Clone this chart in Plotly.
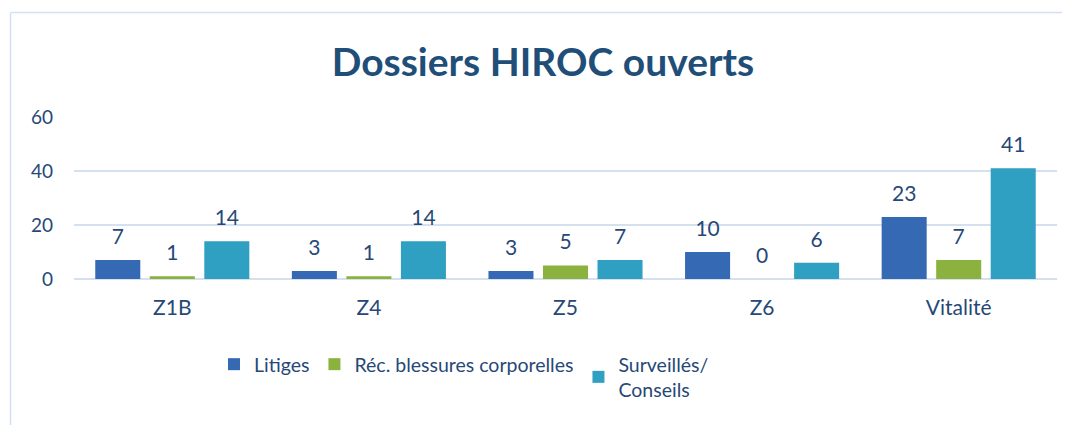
import plotly.graph_objects as go

categories = ["Z1B", "Z4", "Z5", "Z6", "Vitalité"]
litiges = [7, 3, 3, 10, 23]
rec_blessures = [1, 1, 5, 0, 7]
surveilles = [14, 14, 7, 6, 41]
series_names = ["Litiges", "Réc. blessures corporelles", "Surveillés/<br>Conseils"]
series_values = [litiges, rec_blessures, surveilles]
series_colors = ["#3569B4", "#8BB23E", "#2FA0C2"]
y_ticks = [0, 20, 40, 60]

FONT = "Lato, Calibri, sans-serif"
TXT = "#274877"

# page body has an 8px margin; work in page pixels and shift
OFF = 8
W, H = 1070 - 2 * OFF, 433 - 2 * OFF
PL, PR, PT, PB = 74, 1057, 117, 279  # plot area in page pixels
L, R, T, B = PL - OFF, W - (PR - OFF), PT - OFF, H - (PB - OFF)
pw, ph = W - L - R, H - T - B

def px2x(px):
    return (px - PL) / pw

def py2y(py):
    return (PB - py) / ph

fig = go.Figure()
for i, (name, vals, col) in enumerate(zip(series_names, series_values, series_colors)):
    fig.add_trace(go.Bar(
        x=categories, y=vals, name=name, marker=dict(color=col, line=dict(width=0)),
        offsetgroup=str(i), alignmentgroup="a",
    ))
for i, vals in enumerate(series_values):
    fig.add_trace(go.Scatter(
        x=categories, y=vals, mode="markers+text", text=[str(v) for v in vals],
        textposition="top center", textfont=dict(family=FONT, size=21, color=TXT),
        marker=dict(size=16, opacity=0), offsetgroup=str(i), alignmentgroup="a",
        showlegend=False, hoverinfo="skip", cliponaxis=False,
    ))

border = dict(color="#D3E1F3", width=1.5)
fig.add_shape(type="line", xref="paper", yref="paper",
              x0=px2x(10.5), x1=px2x(10.5), y0=py2y(426), y1=py2y(12.5), line=border)
fig.add_shape(type="line", xref="paper", yref="paper",
              x0=px2x(10.5), x1=px2x(1062), y0=py2y(12.5), y1=py2y(12.5), line=border)

fig.update_layout(
    width=W, height=H,
    margin=dict(l=L, r=R, t=T, b=B),
    paper_bgcolor="white", plot_bgcolor="white",
    barmode="group", bargap=0.168, bargroupgap=0.174,
    scattermode="group", scattergap=0.168,
    title=dict(text="<b>Dossiers HIROC ouverts</b>", x=(543 - OFF) / W, xanchor="center",
               y=1 - (62 - OFF) / H, yanchor="middle", yref="container",
               font=dict(family=FONT, size=39, color="#1F4E79")),
    font=dict(family=FONT, color=TXT),
    xaxis=dict(showline=False, ticks="", tickfont=dict(size=21, color=TXT), showgrid=False,
               ticklabelstandoff=14),
    yaxis=dict(range=[0, 60], tickvals=y_ticks, showgrid=True, gridcolor="#D6E1F0", gridwidth=1.5,
               zeroline=True, zerolinecolor="#D6E1F0", zerolinewidth=1.5,
               tickfont=dict(size=19, color=TXT), ticks="", ticklabelstandoff=20),
    legend=dict(orientation="h", x=px2x(214), xanchor="left", y=py2y(345), yanchor="top",
                font=dict(size=19.5, color=TXT), itemwidth=30, traceorder="normal"),
    showlegend=True,
)
fig.write_html("out.html")
